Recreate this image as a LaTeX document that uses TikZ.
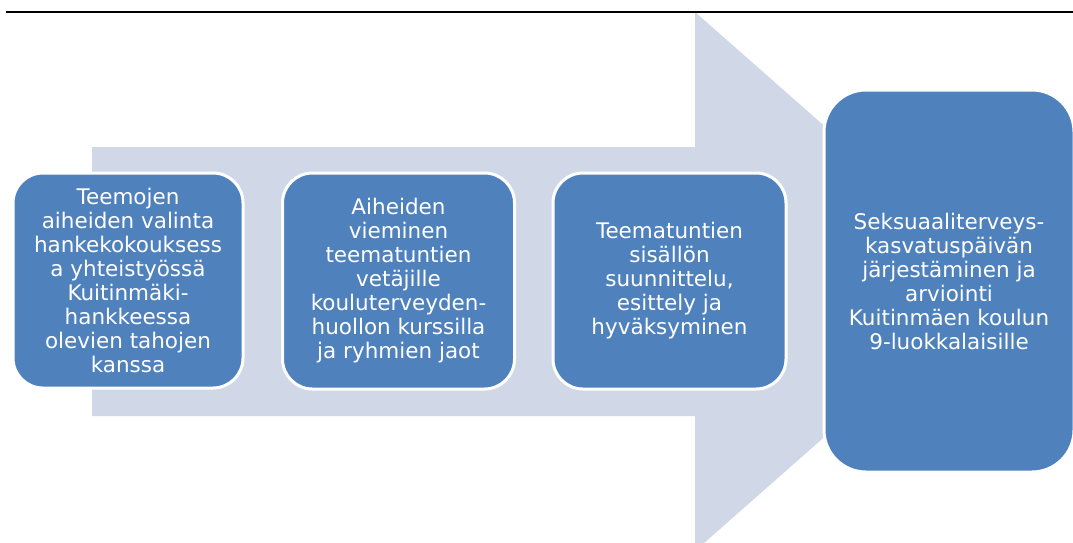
\documentclass[tikz,border=0pt]{standalone}
\usepackage{fontspec}
\setmainfont{DejaVu Sans}
\definecolor{boxblue}{HTML}{4F81BD}
\definecolor{arrowgray}{HTML}{D0D8E8}
\tikzset{
  stepbox/.style={draw=white, line width=3pt, fill=boxblue, rounded corners=30pt,
    text=white, align=center, inner sep=0pt,
    font=\fontsize{21.5}{24}\selectfont},
}
\begin{document}
\begin{tikzpicture}[x=1pt,y=-1pt]
\useasboundingbox (0,0) rectangle (1073,543);
\begin{scope}
\clip (0,0) rectangle (1073,543);
\fill[arrowgray] (92,147) -- (695,147) -- (695,12) -- (1001,281.5) -- (695,551) -- (695,416) -- (92,416) -- cycle;
\end{scope}
\draw[line width=2pt] (6,12) -- (1073,12);
\node[stepbox, minimum width=230pt, minimum height=215pt] (b1) at (128,280.5)
  {Teemojen\\aiheiden valinta\\hankekokouksess\\a yhteistyössä\\Kuitinmäki-\\hankkeessa\\olevien tahojen\\kanssa};
\node[stepbox, minimum width=232pt, minimum height=216pt] (b2) at (398.5,281)
  {Aiheiden\\vieminen\\teematuntien\\vetäjille\\kouluterveyden-\\huollon kurssilla\\ja ryhmien jaot};
\node[stepbox, minimum width=233pt, minimum height=216pt] (b3) at (669.5,281)
  {Teematuntien\\sisällön\\suunnittelu,\\esittely ja\\hyväksyminen};
\node[stepbox, rounded corners=42pt, minimum width=250pt, minimum height=382pt] (b4) at (949,281)
  {Seksuaaliterveys-\\kasvatuspäivän\\järjestäminen ja\\arviointi\\Kuitinmäen koulun\\9-luokkalaisille};
\end{tikzpicture}
\end{document}
